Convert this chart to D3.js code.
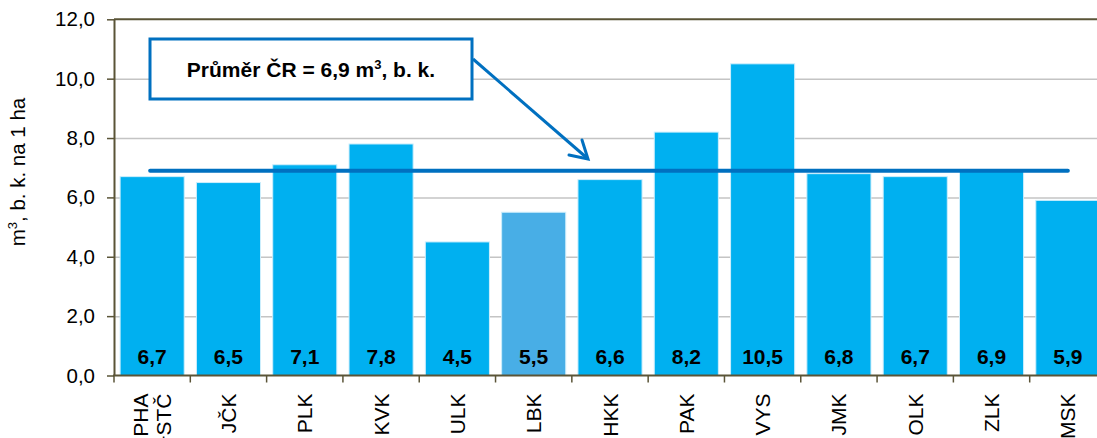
<!DOCTYPE html>
<html>
<head>
<meta charset="utf-8">
<script src="https://cdn.jsdelivr.net/npm/d3@7"></script>
<style>
  body { margin: 0; background: #fff; }
  svg { display: block; font-family: "Liberation Sans", Arial, sans-serif; }
  .grid line { stroke: #c4c4c4; stroke-width: 1.5; }
  .grid .domain { display: none; }
</style>
</head>
<body>
<div id="chart"></div>
<script>
// data
var regions = ["PHA\n+STČ", "JČK", "PLK", "KVK", "ULK", "LBK", "HKK", "PAK", "VYS", "JMK", "OLK", "ZLK", "MSK"];
var values = [6.7, 6.5, 7.1, 7.8, 4.5, 5.5, 6.6, 8.2, 10.5, 6.8, 6.7, 6.9, 5.9];
var highlight = ["LBK"];
var avg_cr = 6.9;
var y_ticks = [0, 2, 4, 6, 8, 10, 12];

var W = 1097, H = 438;
var margin = {top: 19.3, left: 114, bottom: 62.5};
var plot_right = 1106;
var axis_col = "#5a5437";
var fmt = function(v) { return d3.format(".1f")(v).replace(".", ","); };

var svg = d3.select("#chart")
  .append("svg")
  .attr("width", W)
  .attr("height", H);

var xScale = d3.scaleBand()
  .domain(regions)
  .range([margin.left, plot_right])
  .paddingInner(0.16)
  .paddingOuter(0.08);

var yScale = d3.scaleLinear()
  .domain([0, 12])
  .range([H - margin.bottom, margin.top]);

// grid
svg.append("g")
  .attr("class", "grid")
  .attr("transform", "translate(" + margin.left + ",0)")
  .call(d3.axisRight(yScale)
    .tickValues(y_ticks.slice(1, -1))
    .tickSize(plot_right - margin.left)
    .tickFormat(""));

// bars
svg.selectAll(".bar")
  .data(regions)
  .enter()
  .append("rect")
  .attr("class", "bar")
  .attr("x", function(d) { return xScale(d); })
  .attr("width", xScale.bandwidth())
  .attr("y", function(d, i) { return yScale(values[i]); })
  .attr("height", function(d, i) { return yScale(0) - yScale(values[i]); })
  .attr("fill", function(d) { return highlight.indexOf(d) >= 0 ? "#48aee6" : "#00b0f0"; })
  .attr("stroke", "#cdeefc")
  .attr("stroke-width", 1);

// value labels
svg.selectAll(".val")
  .data(regions)
  .enter()
  .append("text")
  .attr("x", function(d) { return xScale(d) + xScale.bandwidth() / 2; })
  .attr("y", yScale(0) - 12)
  .attr("text-anchor", "middle")
  .attr("font-size", "21px")
  .attr("font-weight", "bold")
  .attr("fill", "#000")
  .text(function(d, i) { return fmt(values[i]); });

// frame top
svg.append("line")
  .attr("x1", margin.left).attr("x2", W)
  .attr("y1", yScale(12)).attr("y2", yScale(12))
  .attr("stroke", axis_col).attr("stroke-width", 2);

// y axis
var yAxis = svg.append("g")
  .attr("transform", "translate(" + margin.left + ",0)")
  .call(d3.axisLeft(yScale).tickValues(y_ticks).tickSize(7).tickSizeOuter(0).tickFormat(fmt));
yAxis.select(".domain").attr("stroke", axis_col).attr("stroke-width", 2);
yAxis.selectAll(".tick line").attr("stroke", axis_col).attr("stroke-width", 1.5);
yAxis.selectAll(".tick text")
  .attr("x", -19)
  .attr("font-size", "20.5px")
  .attr("font-family", "Liberation Sans, Arial, sans-serif")
  .attr("fill", "#000");

// x axis
var base = yScale(0);
svg.append("line")
  .attr("x1", margin.left - 1).attr("x2", W)
  .attr("y1", base).attr("y2", base)
  .attr("stroke", axis_col).attr("stroke-width", 2);

var step = xScale.step();
svg.selectAll(".xtick")
  .data(regions)
  .enter()
  .append("line")
  .attr("x1", function(d) { return xScale(d) - xScale.paddingOuter() * step; })
  .attr("x2", function(d) { return xScale(d) - xScale.paddingOuter() * step; })
  .attr("y1", base)
  .attr("y2", base + 7)
  .attr("stroke", axis_col)
  .attr("stroke-width", 1.5);

var xl = svg.selectAll(".xlab")
  .data(regions)
  .enter()
  .append("text")
  .attr("transform", function(d) {
    return "translate(" + (xScale(d) + xScale.bandwidth() / 2) + "," + (base + 18) + ") rotate(-90)";
  })
  .attr("text-anchor", "end")
  .attr("font-size", "21px")
  .attr("fill", "#000");

xl.each(function(d) {
  var lines = d.split("\n");
  var t = d3.select(this);
  lines.forEach(function(s, i) {
    var off = lines.length === 1 ? 7.5 : (i === 0 ? -4 : 19);
    t.append("tspan").attr("x", 0).attr("y", off).text(s);
  });
});

// y title
svg.append("text")
  .attr("transform", "translate(25,172) rotate(-90)")
  .attr("text-anchor", "middle")
  .attr("font-size", "20.5px")
  .attr("fill", "#000")
  .html("m<tspan dy='-8' font-size='13px'>3</tspan><tspan dy='8'>, b. k. na 1 ha</tspan>");

// average line
var first = regions[0], last = regions[regions.length - 1];
svg.append("line")
  .attr("x1", xScale(first) + xScale.bandwidth() / 2 - 2)
  .attr("x2", xScale(last) + xScale.bandwidth() / 2)
  .attr("y1", yScale(avg_cr))
  .attr("y2", yScale(avg_cr))
  .attr("stroke", "#0070c0")
  .attr("stroke-width", 4)
  .attr("stroke-linecap", "round");

// annotation
svg.append("rect")
  .attr("x", 150).attr("y", 39)
  .attr("width", 322).attr("height", 60)
  .attr("fill", "#fff")
  .attr("stroke", "#0070c0")
  .attr("stroke-width", 3);

svg.append("text")
  .attr("x", 311).attr("y", 77)
  .attr("text-anchor", "middle")
  .attr("font-size", "21px")
  .attr("font-weight", "bold")
  .attr("fill", "#000")
  .html("Průměr ČR = " + fmt(avg_cr) + " m<tspan dy='-8' font-size='13px'>3</tspan><tspan dy='8'>, b. k.</tspan>");

svg.append("line")
  .attr("x1", 473).attr("y1", 59)
  .attr("x2", 587).attr("y2", 158)
  .attr("stroke", "#0070c0").attr("stroke-width", 3);
svg.append("path")
  .attr("d", "M569,155 L588,159 L582,140")
  .attr("fill", "none")
  .attr("stroke", "#0070c0").attr("stroke-width", 3)
  .attr("stroke-linecap", "round");
</script>
</body>
</html>
